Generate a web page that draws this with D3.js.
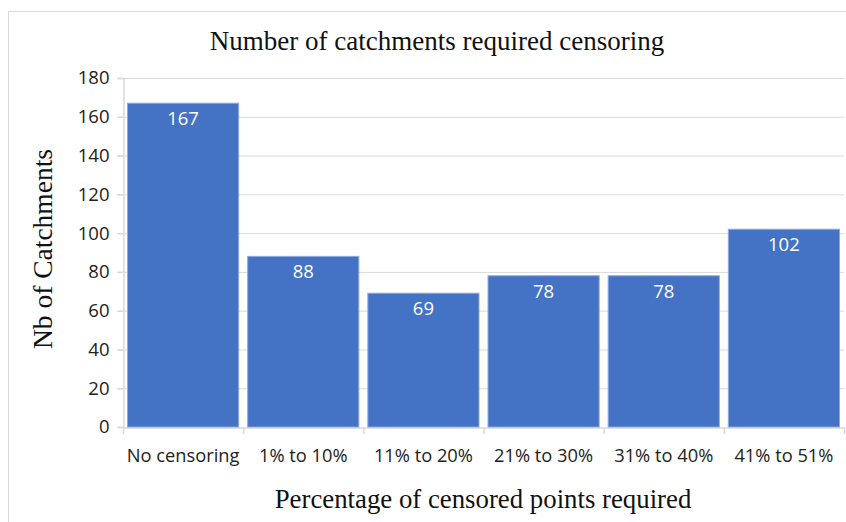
<!DOCTYPE html>
<html><head><meta charset="utf-8">
<script src="https://cdn.jsdelivr.net/npm/d3@7"></script>
<style>body{margin:0;background:#fff}</style>
</head><body>
<script>
const categories = ["No censoring","1% to 10%","11% to 20%","21% to 30%","31% to 40%","41% to 51%"];
const values = [167, 88, 69, 78, 78, 102];
const yTicks = [0,20,40,60,80,100,120,140,160,180];
const title = "Number of catchments required censoring";
const xTitle = "Percentage of censored points required";
const yTitle = "Nb of Catchments";

const W = 846, H = 522;
const svg = d3.select("body").append("svg").attr("width", W).attr("height", H);
svg.append("rect").attr("x",8.5).attr("y",11.5).attr("width",W).attr("height",H)
  .attr("fill","#fff").attr("stroke","#d9d9d9");

const x = d3.scaleBand().domain(categories).range([123, 844]).paddingInner(0.075).paddingOuter(0.0375);
const y = d3.scaleLinear().domain([0,180]).range([427, 78]);
const sans = "'Open Sans', sans-serif";
const serif = "'Liberation Serif', serif";

// gridlines
svg.append("g").selectAll("line").data(yTicks.filter(d=>d>0)).join("line")
  .attr("x1",117).attr("x2",844).attr("y1",d=>y(d)+0.5).attr("y2",d=>y(d)+0.5)
  .attr("stroke","#d9d9d9").attr("stroke-width",1);

// y axis
const ya = svg.append("g").attr("transform","translate(123.5,0)")
  .call(d3.axisLeft(y).tickValues(yTicks).tickSize(6).tickPadding(8));
ya.select(".domain").attr("stroke","#d9d9d9").attr("stroke-width",1.5);
ya.selectAll(".tick line").attr("stroke","#d9d9d9").attr("stroke-width",1.5);
ya.selectAll(".tick text").attr("font-family",sans).attr("font-size",18.5).attr("fill","#222");

// x axis
const xa = svg.append("g").attr("transform","translate(0,427.5)")
  .call(d3.axisBottom(x).tickSize(0).tickPadding(22));
xa.select(".domain").attr("stroke","#d9d9d9").attr("stroke-width",1.5);
xa.selectAll(".tick text").attr("font-family",sans).attr("font-size",18.3).attr("fill","#222");
const step = x.step();
const bounds = d3.range(categories.length+1).map(i => 123 + i*step);
svg.append("g").selectAll("line").data(bounds).join("line")
  .attr("x1",d=>d+0.5).attr("x2",d=>d+0.5).attr("y1",427).attr("y2",434)
  .attr("stroke","#d9d9d9").attr("stroke-width",1.5);

// bars
svg.append("g").selectAll("rect").data(values).join("rect")
  .attr("x",(d,i)=>x(categories[i])).attr("width",x.bandwidth())
  .attr("y",d=>y(d)).attr("height",d=>y(0)-y(d))
  .attr("fill","#4472c4").attr("stroke","#8faadc").attr("stroke-width",1);

// value labels
svg.append("g").selectAll("text").data(values).join("text")
  .attr("x",(d,i)=>x(categories[i])+x.bandwidth()/2).attr("y",d=>y(d)+22)
  .attr("text-anchor","middle").attr("font-family",sans).attr("font-size",18.5)
  .attr("fill","#fff").text(d=>d);

// titles
svg.append("text").attr("x",437).attr("y",50).attr("text-anchor","middle")
  .attr("font-family",serif).attr("font-size",27).attr("fill","#111").text(title);
svg.append("text").attr("x",483).attr("y",508).attr("text-anchor","middle")
  .attr("font-family",serif).attr("font-size",26.8).attr("fill","#111").text(xTitle);
svg.append("text").attr("transform","translate(52,249) rotate(-90)").attr("text-anchor","middle")
  .attr("font-family",serif).attr("font-size",27.5).attr("fill","#111").text(yTitle);
</script>
</body></html>
